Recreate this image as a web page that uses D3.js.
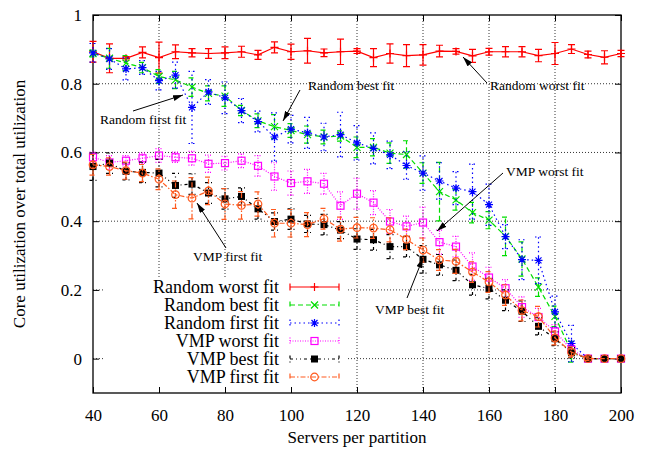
<!DOCTYPE html>
<html>
<head>
<meta charset="utf-8">
<script src="https://cdn.jsdelivr.net/npm/d3@7"></script>
<style>
body { margin: 0; background: #fff; }
text { font-family: "Liberation Serif", "Times New Roman", serif; fill: #000; }
</style>
</head>
<body>
<svg id="chart" width="647" height="449"></svg>
<script>
// servers per partition
const servers = [40, 45, 50, 55, 60, 65, 70, 75, 80, 85, 90, 95, 100, 105, 110, 115, 120,
    125, 130, 135, 140, 145, 150, 155, 160, 165, 170, 175, 180, 185, 190, 195, 200];

const randomWorst = [.893, .874, .874, .891, .876, .893, .890, .888, .890, .893, .884, .906, .893, .896, .890, .893, .895,
    .876, .888, .882, .884, .895, .894, .881, .893, .893, .893, .882, .888, .901, .885, .877, .888];
const randomWorstErr = [.030, .042, .005, .016, .045, .020, .012, .014, .017, .016, .013, .016, .022, .036, .011, .037, .007,
    .026, .028, .032, .030, .017, .008, .019, .010, .015, .015, .018, .032, .013, .010, .019, .009];

const randomBest = [.888, .874, .860, .847, .821, .811, .790, .772, .764, .722, .692, .675, .664, .652, .645, .648, .615,
    .615, .598, .594, .540, .486, .462, .425, .403, .356, .290, .208, .123, .020, 0, 0, 0];
const randomBestErr = [.010, .029, .022, .015, .020, .025, .027, .022, .030, .015, .020, .035, .020, .025, .020, .015, .030,
    .025, .030, .040, .030, .085, .030, .030, .025, .056, .050, .027, .030, .030, .005, 0, 0];

const randomFirst = [.890, .872, .843, .847, .809, .825, .731, .776, .759, .722, .690, .645, .668, .657, .645, .652, .628,
    .612, .593, .562, .540, .517, .496, .486, .448, .355, .288, .286, .136, .044, 0, 0, 0];
const randomFirstErr = [.027, .030, .032, .020, .027, .038, .105, .036, .046, .035, .030, .070, .040, .045, .040, .065, .050,
    .045, .040, .040, .050, .053, .048, .080, .060, .035, .058, .068, .046, .053, .005, .005, 0];

const vmpWorst = [.586, .571, .576, .583, .591, .586, .583, .567, .569, .576, .561, .530, .511, .516, .509, .445, .480,
    .454, .399, .385, .396, .339, .326, .268, .236, .205, .150, .121, .079, .026, 0, 0, 0];
const vmpWorstErr = [.015, .020, .015, .015, .020, .015, .020, .025, .020, .020, .030, .040, .035, .035, .030, .040, .045,
    .035, .035, .030, .045, .035, .030, .040, .030, .025, .030, .025, .020, .015, .005, 0, 0];

const vmpBest = [.559, .569, .545, .542, .540, .504, .508, .482, .465, .472, .436, .399, .406, .392, .390, .374, .348,
    .346, .326, .326, .289, .273, .257, .215, .204, .170, .138, .094, .058, .017, 0, 0, 0];
const vmpBestErr = [.040, .030, .025, .030, .040, .035, .030, .030, .030, .025, .030, .025, .030, .025, .030, .025, .030,
    .030, .035, .030, .040, .030, .030, .030, .030, .030, .030, .025, .020, .015, .005, 0, 0];

const vmpFirst = [.564, .559, .547, .540, .522, .477, .467, .488, .450, .446, .450, .394, .394, .390, .407, .377, .381,
    .380, .375, .347, .316, .287, .283, .252, .223, .185, .140, .122, .060, .019, 0, 0, 0];
const vmpFirstErr = [.030, .025, .025, .025, .030, .040, .060, .040, .045, .040, .035, .040, .040, .035, .030, .035, .030,
    .030, .035, .030, .035, .030, .035, .030, .030, .030, .030, .030, .020, .015, .005, 0, 0];

const xTicks = [40, 60, 80, 100, 120, 140, 160, 180, 200];
const yTicks = [0, 0.2, 0.4, 0.6, 0.8, 1];

const series = [
    {name: "Random worst fit", values: randomWorst, errs: randomWorstErr, color: "#ff0000", dash: null, marker: "plus"},
    {name: "Random best fit", values: randomBest, errs: randomBestErr, color: "#00dd00", dash: "5,3", marker: "cross"},
    {name: "Random first fit", values: randomFirst, errs: randomFirstErr, color: "#0000ff", dash: "1.5,3", marker: "star"},
    {name: "VMP worst fit", values: vmpWorst, errs: vmpWorstErr, color: "#ff00ff", dash: "1,1.5", marker: "square"},
    {name: "VMP best fit", values: vmpBest, errs: vmpBestErr, color: "#000000", dash: "3,3,1,3,1,3", marker: "filled"},
    {name: "VMP first fit", values: vmpFirst, errs: vmpFirstErr, color: "#ff5a1e", dash: "5,2,1.5,2", marker: "circle"}
];

// annotation labels: [text, text x, text y, arrow from x,y, arrow to x,y]
const notes = [
    ["Random best fit", 308, 90, 300, 90, 283, 121],
    ["Random first fit", 100, 124, 133, 111, 183, 95],
    ["Random worst fit", 490, 90, 487, 83, 463, 57],
    ["VMP worst fit", 506, 176, 503, 173, 437, 231],
    ["VMP first fit", 193, 261, 226, 248, 197, 203],
    ["VMP best fit", 375, 314, 407, 298, 423, 258]
];

const W = 647, H = 449;
const m = {left: 93, right: 26, top: 15, bottom: 56};

const svg = d3.select("#chart");

const x = d3.scaleLinear().domain([40, 200]).range([m.left, W - m.right]);
const y = d3.scaleLinear().domain([-0.1, 1]).range([H - m.bottom, m.top]);

svg.append("defs")
    .append("marker")
    .attr("id", "head")
    .attr("viewBox", "0 -3 10 6")
    .attr("refX", 10)
    .attr("refY", 0)
    .attr("markerWidth", 10)
    .attr("markerHeight", 6)
    .attr("markerUnits", "userSpaceOnUse")
    .attr("orient", "auto")
    .append("path")
    .attr("d", "M0,-3L10,0L0,3Z")
    .attr("fill", "#000");

// grid
const grid = svg.append("g").attr("stroke", "#000").attr("stroke-width", 0.8).attr("stroke-dasharray", "1,2");
grid.selectAll(".gx")
    .data(xTicks.slice(1, -1))
    .enter()
    .append("line")
    .attr("x1", d => x(d)).attr("x2", d => x(d))
    .attr("y1", m.top).attr("y2", H - m.bottom);
grid.selectAll(".gy")
    .data(yTicks.slice(0, -1))
    .enter()
    .append("line")
    .attr("x1", m.left).attr("x2", W - m.right)
    .attr("y1", d => y(d)).attr("y2", d => y(d));

// key background hides the grid
svg.append("rect")
    .attr("x", 105).attr("y", 278)
    .attr("width", 243).attr("height", H - m.bottom - 278)
    .attr("fill", "#fff");

// axes with mirrored inward ticks
const tick = 6;
svg.append("g")
    .attr("transform", `translate(0,${H - m.bottom})`)
    .call(d3.axisBottom(x).tickValues(xTicks).tickSize(-tick).tickPadding(16))
    .call(g => g.select(".domain").remove())
    .call(g => g.selectAll("text").attr("font-size", 17));
svg.append("g")
    .attr("transform", `translate(0,${m.top})`)
    .call(d3.axisTop(x).tickValues(xTicks).tickSize(-tick).tickFormat(""))
    .call(g => g.select(".domain").remove());
svg.append("g")
    .attr("transform", `translate(${m.left},0)`)
    .call(d3.axisLeft(y).tickValues(yTicks).tickSize(-tick).tickPadding(11).tickFormat(d3.format("~g")))
    .call(g => g.select(".domain").remove())
    .call(g => g.selectAll("text").attr("font-size", 17));
svg.append("g")
    .attr("transform", `translate(${W - m.right},0)`)
    .call(d3.axisRight(y).tickValues(yTicks).tickSize(-tick).tickFormat(""))
    .call(g => g.select(".domain").remove());
svg.selectAll(".tick line").attr("stroke", "#000").attr("stroke-width", 1);

svg.append("rect")
    .attr("x", m.left).attr("y", m.top)
    .attr("width", W - m.left - m.right).attr("height", H - m.top - m.bottom)
    .attr("fill", "none").attr("stroke", "#000").attr("stroke-width", 1.3);

svg.append("text")
    .attr("x", (m.left + W - m.right) / 2).attr("y", 443)
    .attr("text-anchor", "middle").attr("font-size", 17)
    .text("Servers per partition");
svg.append("text")
    .attr("transform", `translate(25,${(m.top + H - m.bottom) / 2}) rotate(-90)`)
    .attr("text-anchor", "middle").attr("font-size", 17)
    .text("Core utilization over total utilization");

function drawMarker(g, type, color) {
    if (type === "plus") {
        g.append("path").attr("d", "M-4,0H4M0,-4V4").attr("stroke", color).attr("fill", "none");
    } else if (type === "cross") {
        g.append("path").attr("d", "M-3.5,-3.5L3.5,3.5M-3.5,3.5L3.5,-3.5").attr("stroke", color).attr("fill", "none");
    } else if (type === "star") {
        g.append("path").attr("d", "M-4,0H4M0,-4V4M-3,-3L3,3M-3,3L3,-3").attr("stroke", color).attr("fill", "none");
    } else if (type === "square") {
        g.append("rect").attr("x", -3.5).attr("y", -3.5).attr("width", 7).attr("height", 7)
            .attr("stroke", color).attr("fill", "none");
    } else if (type === "filled") {
        g.append("rect").attr("x", -3.5).attr("y", -3.5).attr("width", 7).attr("height", 7)
            .attr("fill", color);
    } else if (type === "circle") {
        g.append("circle").attr("r", 3.8).attr("stroke", color).attr("fill", "none");
    }
}

const line = d3.line()
    .x(d => x(d.x))
    .y(d => y(d.y));

const cap = 3.5;
series.forEach(s => {
    const pts = servers.map((v, i) => ({x: v, y: s.values[i], e: s.errs[i]}));
    const g = svg.append("g").attr("stroke-width", 1.2);

    g.selectAll(".err")
        .data(pts.filter(d => d.e > 0))
        .enter()
        .append("path")
        .attr("d", d => {
            const px = x(d.x), lo = y(d.y - d.e), hi = y(d.y + d.e);
            return `M${px},${lo}V${hi}M${px - cap},${lo}H${px + cap}M${px - cap},${hi}H${px + cap}`;
        })
        .attr("stroke", s.color)
        .attr("stroke-dasharray", s.dash)
        .attr("fill", "none");

    g.append("path")
        .datum(pts)
        .attr("d", line)
        .attr("stroke", s.color)
        .attr("stroke-dasharray", s.dash)
        .attr("fill", "none");

    pts.forEach(d => {
        const mk = g.append("g").attr("transform", `translate(${x(d.x)},${y(d.y)})`);
        drawMarker(mk, s.marker, s.color);
    });
});

// key
const key = svg.append("g");
series.forEach((s, i) => {
    const cy = 287 + i * 18;
    key.append("text")
        .attr("x", 279).attr("y", cy + 6)
        .attr("text-anchor", "end").attr("font-size", 18)
        .text(s.name);
    key.append("path")
        .attr("d", `M290,${cy}H339M290,${cy - cap}V${cy + cap}M339,${cy - cap}V${cy + cap}`)
        .attr("stroke", s.color).attr("stroke-width", 1.2)
        .attr("stroke-dasharray", s.dash).attr("fill", "none");
    const mk = key.append("g").attr("transform", `translate(314.5,${cy})`).attr("stroke-width", 1.2);
    drawMarker(mk, s.marker, s.color);
});

// annotations
notes.forEach(n => {
    svg.append("text")
        .attr("x", n[1]).attr("y", n[2])
        .attr("font-size", 13.5)
        .text(n[0]);
    svg.append("line")
        .attr("x1", n[3]).attr("y1", n[4])
        .attr("x2", n[5]).attr("y2", n[6])
        .attr("stroke", "#000").attr("stroke-width", 1)
        .attr("marker-end", "url(#head)");
});
</script>
</body>
</html>
